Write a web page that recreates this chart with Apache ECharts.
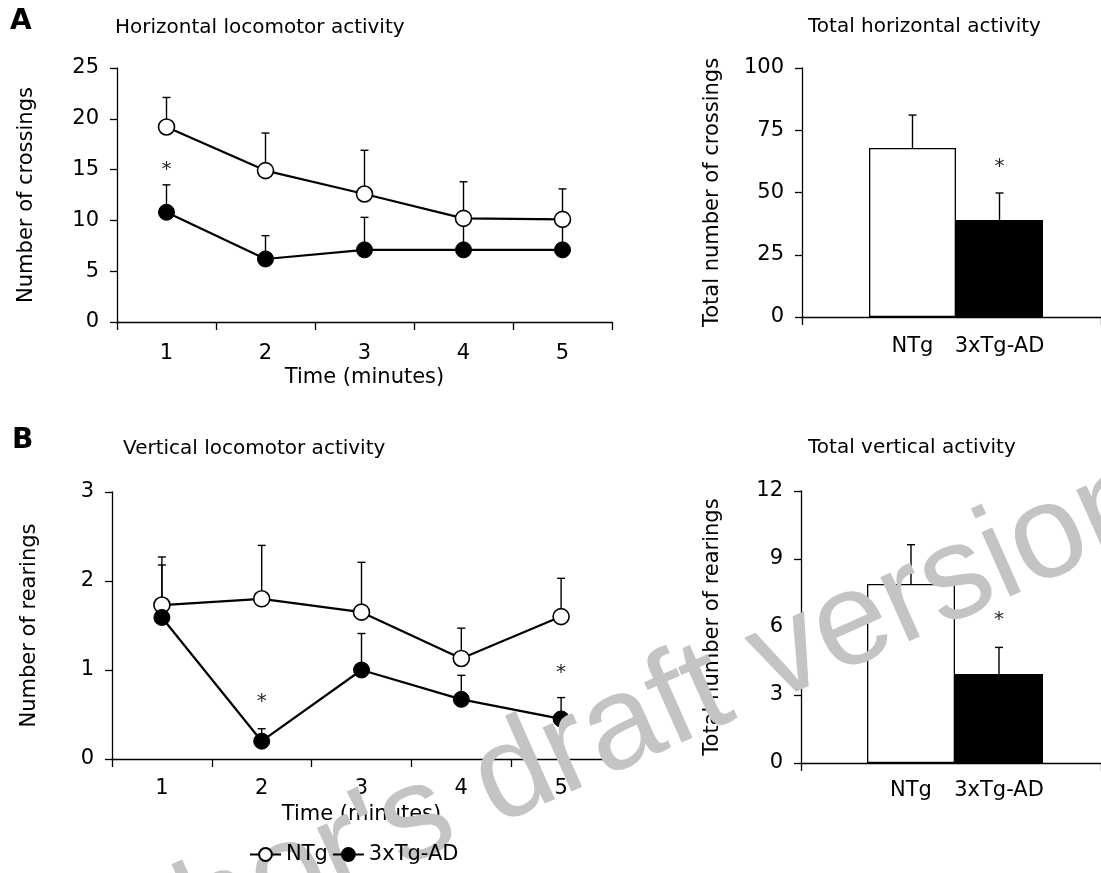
<!DOCTYPE html>
<html lang="en">
<head>
    <meta charset="UTF-8">
    <title>Locomotor activity</title>
    <style>
        html, body { margin: 0; padding: 0; background: #fff; }
        #root { width: 1101px; height: 873px; }
    </style>
</head>
<body>
    <div id="root"></div>
    <script src="https://cdn.jsdelivr.net/npm/echarts@6/dist/echarts.min.js"></script>
    <script>
        // values
        var minutes = ['1', '2', '3', '4', '5'];
        var groups = ['NTg', '3xTg-AD'];

        var ntgCross = [19.2, 14.9, 12.6, 10.2, 10.1];
        var ntgCrossUp = [22.1, 18.6, 16.9, 13.8, 13.1];
        var tgCross = [10.8, 6.2, 7.1, 7.1, 7.1];
        var tgCrossUp = [13.5, 8.5, 10.3, 10.0, 9.8];
        var crossStars = [[0, 15.45]];

        var totalCross = [67.9, 39.0];
        var totalCrossUp = [81.1, 49.8];
        var totalCrossStars = [[1, 62.2]];

        var ntgRear = [1.73, 1.80, 1.65, 1.13, 1.60];
        var ntgRearUp = [2.27, 2.40, 2.21, 1.47, 2.03];
        var tgRear = [1.59, 0.20, 1.00, 0.67, 0.45];
        var tgRearUp = [2.18, 0.34, 1.41, 0.94, 0.69];
        var rearStars = [[1, 0.70], [4, 1.02]];

        var totalRear = [7.9, 3.93];
        var totalRearUp = [9.63, 5.1];
        var totalRearStars = [[1, 6.53]];

        var FONT = 'DejaVu Sans';
        var INK = '#000';

        function errData(mean, up) {
            return mean.map(function (m, i) { return [i, m, up[i]]; });
        }

        function errRender(params, api) {
            var p0 = api.coord([api.value(0), api.value(1)]);
            var p1 = api.coord([api.value(0), api.value(2)]);
            var st = { stroke: INK, lineWidth: 1.4 };
            return {
                type: 'group',
                children: [
                    { type: 'line', shape: { x1: p0[0], y1: p0[1], x2: p1[0], y2: p1[1] }, style: st },
                    { type: 'line', shape: { x1: p1[0] - 4, y1: p1[1], x2: p1[0] + 4, y2: p1[1] }, style: st }
                ]
            };
        }

        function errSeries(mean, up, xi, z) {
            return {
                type: 'custom', xAxisIndex: xi, yAxisIndex: xi, z: z,
                renderItem: errRender, data: errData(mean, up), silent: true
            };
        }

        function starSeries(pts, xi) {
            return {
                type: 'scatter', xAxisIndex: xi, yAxisIndex: xi, z: 5,
                symbolSize: 1, itemStyle: { opacity: 0 }, data: pts,
                label: {
                    show: true, position: 'inside', formatter: '*', offset: [0, 5],
                    color: '#222', fontSize: 20, fontFamily: FONT, opacity: 1
                },
                silent: true
            };
        }

        function lineSeries(name, vals, xi, filled) {
            return {
                name: name, type: 'line', xAxisIndex: xi, yAxisIndex: xi, z: 3,
                data: vals, symbol: 'circle', symbolSize: 16,
                lineStyle: { color: INK, width: 2.2 },
                itemStyle: filled ? { color: INK, borderColor: INK, borderWidth: 1 }
                                  : { color: '#fff', borderColor: INK, borderWidth: 1.6 },
                emphasis: { disabled: true }
            };
        }

        function barSeries(vals, xi) {
            return {
                type: 'bar', xAxisIndex: xi, yAxisIndex: xi, z: 2,
                barWidth: '100%', barCategoryGap: '0%',
                data: [
                    { value: vals[0], itemStyle: { color: '#fff', borderColor: INK, borderWidth: 1.3 } },
                    { value: vals[1], itemStyle: { color: INK, borderColor: INK, borderWidth: 1.3 } }
                ],
                emphasis: { disabled: true }, silent: true
            };
        }

        var axisLine = { show: true, lineStyle: { color: INK, width: 1.3 } };
        var tick = { show: true, length: 7, lineStyle: { color: INK, width: 1.3 } };
        var labelStyle = { color: INK, fontSize: 21, fontFamily: FONT };
        var nameStyle = { color: INK, fontSize: 21, fontFamily: FONT };

        function catAxis(gi, margin) {
            return {
                type: 'category', gridIndex: gi, data: minutes, boundaryGap: true,
                axisLine: axisLine, axisTick: { show: true, length: 8, interval: 0, lineStyle: tick.lineStyle },
                axisLabel: Object.assign({ margin: margin, interval: 0 }, labelStyle),
                name: 'Time (minutes)', nameLocation: 'middle', nameGap: 45, nameTextStyle: nameStyle,
                splitLine: { show: false }
            };
        }
        function valAxis(gi, max, step, name, gap) {
            return {
                type: 'value', gridIndex: gi, min: 0, max: max, interval: step,
                axisLine: axisLine, axisTick: tick,
                axisLabel: Object.assign({ margin: 18 }, labelStyle),
                name: name, nameLocation: 'middle', nameGap: gap, nameTextStyle: nameStyle,
                splitLine: { show: false }
            };
        }
        function frameX(gi) {
            return {
                type: 'value', gridIndex: gi, min: 0, max: 1, interval: 1,
                axisLine: axisLine, axisTick: { show: true, length: 8, lineStyle: tick.lineStyle },
                axisLabel: { show: false }, splitLine: { show: false }
            };
        }
        function barX(gi, margin) {
            return {
                type: 'category', gridIndex: gi, data: groups,
                axisLine: { show: false }, axisTick: { show: false },
                axisLabel: Object.assign({ margin: margin, interval: 0, hideOverlap: false }, labelStyle)
            };
        }
        function hiddenY(gi, max) {
            return { type: 'value', gridIndex: gi, min: 0, max: max, show: false, splitLine: { show: false } };
        }

        var titleStyle = { color: INK, fontSize: 20, fontWeight: 'normal', fontFamily: FONT };
        var panelStyle = { color: INK, fontSize: 28, fontWeight: 'bold', fontFamily: FONT };

        var option = {
            backgroundColor: '#fff',
            animation: false,
            title: [
                { text: 'A', left: 10, top: 8, padding: 0, textStyle: panelStyle },
                { text: 'Horizontal locomotor activity', left: 115, top: 18, padding: 0, textStyle: titleStyle },
                { text: 'Total horizontal activity', left: 808, top: 17, padding: 0, textStyle: titleStyle },
                { text: 'B', left: 12, top: 427, padding: 0, textStyle: panelStyle },
                { text: 'Vertical locomotor activity', left: 123, top: 439, padding: 0, textStyle: titleStyle },
                { text: 'Total vertical activity', left: 808, top: 438, padding: 0, textStyle: titleStyle }
            ],
            legend: {
                data: ['NTg', '3xTg-AD'], left: 249, top: 844, padding: 0, z: 120,
                itemWidth: 31, itemHeight: 16, itemGap: 4,
                textStyle: { color: INK, fontSize: 21, fontFamily: FONT },
                selectedMode: false
            },
            grid: [
                { left: 117, top: 68, width: 495, height: 254 },
                { left: 802, top: 68, width: 299, height: 249 },
                { left: 869, top: 68, width: 174, height: 249 },
                { left: 112, top: 492, width: 499, height: 267 },
                { left: 801, top: 491, width: 300, height: 272 },
                { left: 867, top: 491, width: 176, height: 272 }
            ],
            xAxis: [
                catAxis(0, 21),
                frameX(1),
                barX(2, 19),
                catAxis(3, 19),
                frameX(4),
                barX(5, 17)
            ],
            yAxis: [
                valAxis(0, 25, 5, 'Number of crossings', 80),
                valAxis(1, 100, 25, 'Total number of crossings', 79),
                hiddenY(2, 100),
                valAxis(3, 3, 1, 'Number of rearings', 72),
                valAxis(4, 12, 3, 'Total number of rearings', 78),
                hiddenY(5, 12)
            ],
            series: [
                errSeries(ntgCross, ntgCrossUp, 0, 1),
                errSeries(tgCross, tgCrossUp, 0, 1),
                lineSeries('NTg', ntgCross, 0, false),
                lineSeries('3xTg-AD', tgCross, 0, true),
                starSeries(crossStars, 0),

                barSeries(totalCross, 2),
                errSeries(totalCross, totalCrossUp, 2, 3),
                starSeries(totalCrossStars, 2),

                errSeries(ntgRear, ntgRearUp, 3, 1),
                errSeries(tgRear, tgRearUp, 3, 1),
                lineSeries('NTg', ntgRear, 3, false),
                lineSeries('3xTg-AD', tgRear, 3, true),
                starSeries(rearStars, 3),

                barSeries(totalRear, 5),
                errSeries(totalRear, totalRearUp, 5, 3),
                starSeries(totalRearStars, 5)
            ],
            graphic: [
                {
                    type: 'text', z: 100, silent: true,
                    x: 577, y: 749, rotation: 24 * Math.PI / 180,
                    style: {
                        text: "Author's draft version",
                        font: '133px "Liberation Sans"',
                        fill: '#c4c4c4',
                        textAlign: 'center', textVerticalAlign: 'middle'
                    }
                }
            ]
        };

        var chart = echarts.init(document.getElementById('root'), null, { renderer: 'canvas' });
        chart.setOption(option);
    </script>
</body>
</html>
